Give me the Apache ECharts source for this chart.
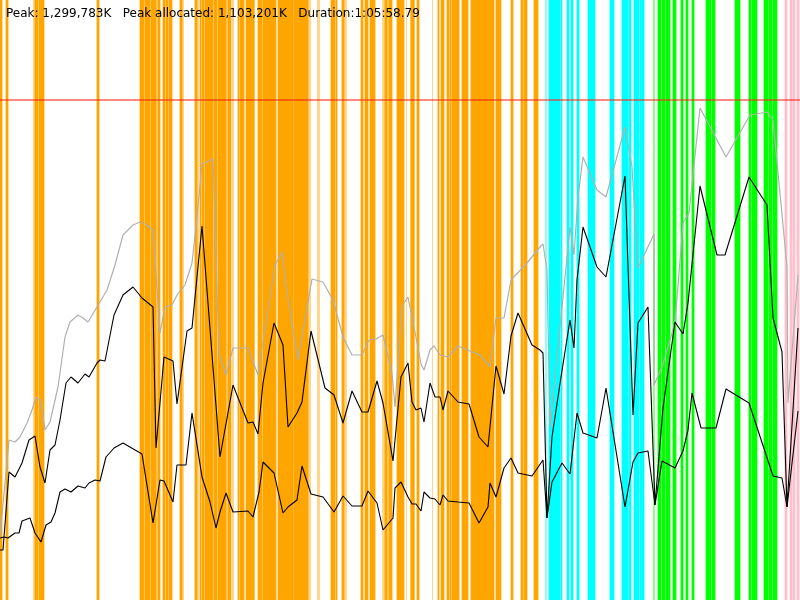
<!DOCTYPE html>
<html>
<head>
<meta charset="utf-8">
<script src="https://cdn.jsdelivr.net/npm/echarts@6/dist/echarts.min.js"></script>
<style>
html,body{margin:0;padding:0;background:#fff;}
#main{width:800px;height:600px;}
</style>
</head>
<body>
<div id="main"></div>
<script>
// time runs 0..800 along x, memory 0..600 up y (same units as the plot)
var heapLimit = 500;

var orangeSpans = [[0,2],[6,8],[35,38],[39,44],[97,99],[140,144],[145,150],[151,156],[158,160],[163,165],[166,168],
  [169,172],[180,182],[195,197],[200,201],[202,204],[205,213],[214,217],[218,226],[228,231],[238,239],[240,244],
  [246,254],[258,262],[263,276],[278,293],[294,308],[331,335],[336,337],[342,344],[361,363],[365,368],[370,375],
  [385,387],[389,392],[397,404],[411,414],[417,419],[438,439],[441,444],[447,449],[450,451],[452,459],[462,468],
  [471,494],[496,501],[511,513],[521,523],[524,527],[534,538]];
var paleOrangeSpans = [[33,35],[156,158],[182,184],[197,199],[226,228],[232,234],[254,255],[293,294],[308,311],
  [317,320],[344,347],[382,385],[387,389],[406,407],[410,411],[414,415],[432,433]];
var cyanSpans = [[549,560],[561,562],[567,569],[571,573],[577,579],[588,595],[610,614],[622,628],[629,631],
  [634,639],[640,644]];
var paleCyanSpans = [[545,547]];
var greenSpans = [[658,661],[662,665],[666,670],[673,676],[681,683],[686,688],[692,694],[706,711],[712,715],
  [735,740],[749,751],[752,757],[764,768],[769,772],[773,777]];
var paleGreenSpans = [[653,655]];
var pinkSpans = [[785,787],[790,792],[793,795],[797,799]];

var heapSize = [[0,63],[9,160],[15,158],[20,163],[27,177],[32,190],[36,203],[40,200],[45,170],[50,178],[58,213],
  [65,263],[70,278],[78,285],[83,282],[88,278],[97,293],[107,310],[115,335],[123,365],[133,375],[140,378],[147,375],
  [153,370],[160,267],[165,293],[172,295],[177,305],[185,315],[192,337],[197,383],[202,436],[213,441],[219,247],
  [226,225],[233,252],[248,252],[258,225],[275,335],[282,348],[287,307],[298,240],[312,321],[323,318],[333,300],
  [343,263],[352,245],[362,245],[369,260],[376,261],[383,265],[392,227],[395,193],[402,294],[408,303],[415,268],
  [421,236],[424,230],[430,250],[434,254],[440,245],[448,243],[458,254],[470,249],[480,245],[490,233],[496,282],
  [504,282],[511,320],[527,337],[540,353],[543,356],[547,330],[550,173],[570,373],[574,345],[578,403],[583,443],
  [597,410],[606,403],[625,473],[632,433],[638,332],[654,366],[654,215],[662,233],[675,277],[683,377],[689,387],
  [700,492],[726,443],[750,485],[767,488],[773,480],[787,333],[788,197],[798,325]];

var allocated = [[0,50],[3,50],[9,128],[15,123],[22,137],[29,160],[35,164],[40,133],[45,117],[50,150],[55,155],
  [60,180],[66,217],[71,223],[78,217],[85,226],[89,223],[97,237],[100,240],[105,239],[114,285],[123,305],[133,313],
  [142,302],[153,293],[156,152],[164,243],[173,239],[177,196],[187,269],[192,272],[202,374],[220,143],[233,215],
  [248,177],[253,178],[258,166],[263,217],[274,277],[283,255],[288,173],[297,187],[302,198],[311,269],[325,212],
  [334,205],[343,177],[352,209],[362,188],[368,188],[377,219],[383,197],[393,139],[401,223],[408,237],[412,198],
  [416,190],[421,192],[424,178],[430,217],[435,203],[440,203],[443,190],[448,209],[458,198],[469,196],[479,163],
  [488,153],[496,234],[504,206],[511,264],[518,287],[532,255],[540,250],[543,247],[547,82],[552,163],[561,223],
  [570,280],[574,252],[577,320],[583,373],[597,333],[606,323],[625,424],[633,185],[638,277],[648,293],[655,95],
  [663,192],[675,278],[683,266],[688,297],[700,414],[717,345],[725,345],[749,423],[767,395],[773,282],[782,248],
  [787,93],[798,272]];

var retained = [[0,62],[4,63],[8,62],[15,67],[19,67],[22,79],[30,82],[35,67],[41,58],[46,75],[51,78],[55,87],
  [60,108],[65,111],[71,108],[78,114],[85,112],[89,117],[95,120],[100,119],[106,143],[114,152],[123,157],[142,146],
  [153,77],[160,120],[164,119],[173,98],[177,135],[186,135],[192,187],[202,123],[210,98],[216,72],[220,88],[226,107],
  [233,88],[248,89],[253,83],[259,108],[263,138],[274,127],[283,87],[288,93],[297,100],[302,134],[311,106],[323,103],
  [334,88],[343,104],[352,94],[362,94],[368,109],[377,97],[383,70],[393,82],[395,112],[401,118],[408,103],[412,96],
  [416,96],[421,89],[424,108],[430,102],[435,101],[440,95],[443,105],[448,99],[458,98],[469,97],[479,77],[488,93],
  [490,117],[496,103],[504,132],[511,142],[518,127],[532,124],[543,140],[547,82],[552,118],[562,137],[570,126],
  [577,187],[583,167],[597,162],[606,212],[625,93],[633,138],[638,147],[648,149],[655,95],[662,139],[675,132],
  [683,149],[688,170],[692,207],[701,172],[716,172],[726,211],[749,197],[773,124],[782,122],[787,93],[798,189]];

// each colour band is an empty line series carrying its spans as markAreas
function stripes(spans, color, edge){
  return {
    type: 'line',
    data: [],
    silent: true,
    z: 1,
    markArea: {
      silent: true,
      itemStyle: {color: color, opacity: 1, borderColor: color, borderWidth: edge},
      label: {show: false},
      data: spans.map(function(s){ return [{xAxis: s[0]}, {xAxis: s[1]}]; })
    }
  };
}

function line(data, color, width){
  return {type: 'line', data: data, symbol: 'none', z: 3, silent: true,
    lineStyle: {color: color, width: width}};
}

var chart = echarts.init(document.getElementById('main'));
var series = [
  stripes(paleOrangeSpans, 'rgba(255,165,0,0.45)', 0),
  stripes(orangeSpans, '#ffa500', 0.8),
  stripes(paleCyanSpans, 'rgba(0,255,255,0.45)', 0),
  stripes(cyanSpans, '#00ffff', 0.8),
  stripes(paleGreenSpans, 'rgba(0,255,0,0.45)', 0),
  stripes(greenSpans, '#00ff00', 0.8),
  stripes(pinkSpans, '#ffc0cb', 0.8),
  line(heapSize, '#b0b0b0', 1.2),
  line(allocated, '#000', 1.1),
  line(retained, '#000', 1.1)
];
series[7].markLine = {silent: true, symbol: 'none', label: {show: false},
  lineStyle: {color: 'rgba(255,30,20,0.7)', width: 1.5, type: 'solid'},
  data: [{yAxis: heapLimit}]};

chart.setOption({
  animation: false,
  backgroundColor: '#fff',
  title: {
    text: 'Peak: 1,299,783K   Peak allocated: 1,103,201K   Duration:1:05:58.79',
    left: 1, top: 3,
    textStyle: {fontFamily: 'DejaVu Sans', fontSize: 12, fontWeight: 'normal', color: '#000'}
  },
  grid: {left: 0, right: 0, top: 0, bottom: 0},
  xAxis: {type: 'value', min: 0, max: 800, show: false},
  yAxis: {type: 'value', min: 0, max: 600, show: false},
  series: series
});
</script>
</body>
</html>
